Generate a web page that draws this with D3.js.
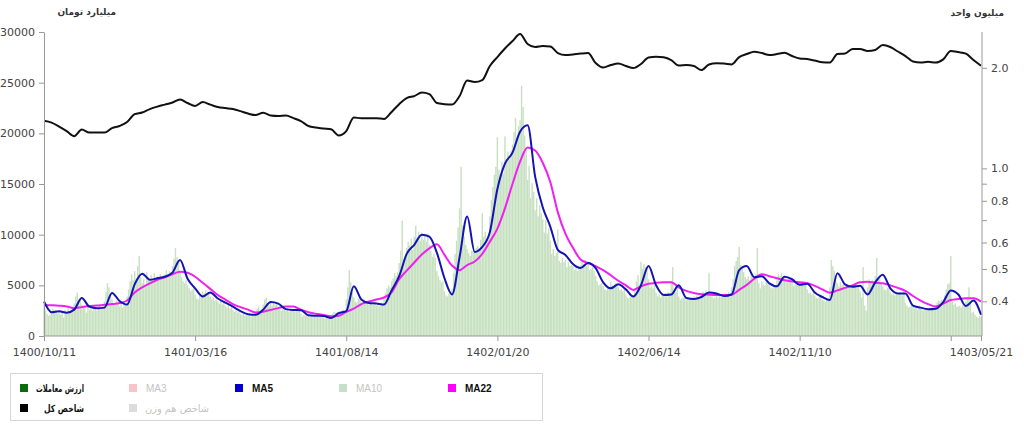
<!DOCTYPE html>
<html><head><meta charset="utf-8">
<script src="https://cdn.jsdelivr.net/npm/d3@7"></script>
<style>body{margin:0;background:#fff;} svg{display:block;}</style>
</head><body><svg id="c" width="1024" height="429"></svg>
<script>
// ---------- data ----------
const tickIndex = [0,100,200,300,400,500,600];
const tickLabels = ["1400/10/11","1401/03/16","1401/08/14","1402/01/20","1402/06/14","1402/11/10",""];
const lastLabel = "1403/05/21";
const leftTicks = [0,5000,10000,15000,20000,25000,30000];
const rightTicks = [0.4,0.5,0.6,0.7,0.8,0.9,1.0,2.0];
const rightLabels = ["0.4","0.5","0.6","","0.8","","1.0","2.0"];
const lineStep = 5; // line series are sampled every 5 trading days

// trading value (billion toman), one per trading day
const volume = [
3200,2600,2200,2000,2100, 2400,2700,2300,2600,2200, 2500,2100,2400,1800,2600, 2300,2900,2500,2400,2900,
3200,3900,4300,3600,3800, 3100,2800,2900,2300,3200, 2600,2900,2500,3000,2700, 2500,2800,3100,2600,2900,
3400,4300,5200,4800,3900, 3600,3200,3000,3500,3300, 2900,3200,2800,3300,3100, 3900,4600,5400,6100,5500,
6400,5700,6900,7900,5800, 5200,5600,4900,6300,5800, 5500,6000,5300,6200,5600, 5900,5600,6100,5700,6000,
6100,6500,6000,6400,6300, 6900,7600,8700,7800,7200, 6300,5800,5400,5200,5500, 5000,4700,4400,4600,4800,
4100,3700,3600,4000,3800, 4400,4200,4500,4100,4300, 3900,3600,3800,3500,3600, 3400,3200,3500,3100,3300,
3000,2800,3100,2700,2900, 2600,2400,2500,2300,2400, 2200,2100,2300,2000,2100, 2000,2200,1900,2100,2200,
2400,2700,2900,2500,2600, 3100,3600,3800,3200,3000, 3300,3000,3400,3100,3200, 2800,2600,2500,2700,2600,
2500,2700,2400,2600,2600, 2600,2400,2700,2500,2500, 2200,1900,2100,2000,2000, 2100,1900,2000,2100,1900,
1900,2000,2100,1900,2000, 1800,1700,1900,1700,1800, 2000,2200,2400,2300,2350, 2400,2300,2500,2600,2450,
3600,4800,6500,5300,4300, 3800,3400,3300,3700,3800, 3300,3100,3400,3200,3250, 3100,3300,3200,3100,3300,
3000,3200,2900,3300,3100, 3800,4200,4700,5000,4800, 5400,5700,6200,5900,6300, 7200,8400,11400,7600,7900,
8700,9300,8900,9600,8500, 9800,10900,9600,10300,9400, 10200,9500,9900,9300,10100, 9000,8400,7800,8100,7700,
6400,5900,5500,5300,5400, 4400,4000,3900,4200,4000, 4600,6200,8100,9400,10700, 12600,16700,10900,9800,9000,
8600,8200,7900,8400,8400, 8300,8700,8900,8600,9500, 12100,9800,10300,9600,9500, 11800,13400,14700,15900,16700,
19600,16400,15800,17200,16000, 19700,17500,18200,17400,18300, 18900,20100,21500,19600,20700, 21300,24700,22600,19800,18500,
15400,16800,13600,15100,14200, 12400,13600,11800,12900,12100, 11500,10200,11400,10100,10600, 9400,8100,8600,7900,8200,
10500,7400,7200,7700,7300, 7500,6800,7300,6900,7000, 6900,6500,6800,6400,6900, 7000,7400,7100,7500,6900,
7200,6500,6600,6800,6400, 5900,5400,5000,5100,5200, 4900,4600,4500,4800,4700, 5300,5000,4900,5200,5100,
4800,4500,4600,4400,4700, 4100,3800,3700,3900,4000, 3900,4600,5400,6000,5100, 7300,6600,7100,6800,6700,
5600,4800,4900,4700,5000, 4300,3900,4100,3800,4200, 4000,4200,3900,4300,4100, 5400,6800,4600,4300,4900,
3900,3600,3700,3800,3750, 3500,3700,3600,3800,3650, 3900,3700,4000,3800,3850, 4200,4400,4100,4500,4300,
6200,4000,3900,3700,3800, 4000,3800,4100,3900,3950, 4000,4200,4100,4300,3900, 4800,5600,6900,7400,7800,
8800,7000,6600,6300,5800, 5600,5900,5500,6100,5900, 5800,6100,8700,5200,4700, 5400,5100,5000,5300,5200,
5000,4800,4700,5000,4900, 5500,6100,5900,6200,5600, 5700,5400,5600,5800,5500, 5200,4900,5100,5000,5000,
5300,5000,5200,5100,5200, 4600,4200,4300,4100,4300, 4000,3800,3700,3900,3850, 3600,3500,3400,3700,3550,
4800,7500,6900,6400,5400, 5200,4900,5300,5000,5100, 4700,5000,4800,4900,4850, 5000,4800,5100,4900,4950,
4400,3800,6800,3000,2500, 4800,5600,5200,5500,5400, 5900,7700,5800,5600,5250, 4900,4600,4500,4800,4700,
4300,4100,4200,4000,4400, 4100,4300,4200,4000,4400, 3300,3000,2800,2900,3000, 2900,2700,2800,2600,3000,
2700,2600,2500,2700,2750, 2600,2800,2700,2600,2800, 3000,3300,3500,3400,3550, 3600,4000,4600,5100,5200,
7900,3400,3100,3200,2900, 2900,3000,2800,3100,2950, 3400,3800,4800,3200,2300, 2400,2100,1900,1800,2000,
1900];

// MA5 of trading value (billion toman), every 5th day
const ma5 = [
3400,2350,2450,2300,2600,3750,2900,2750,2800,4250,
3450,3100,5100,6150,5550,5700,5850,6250,7500,5650,
4700,3900,4300,3700,3300,2900,2450,2150,2100,2600,
3350,3200,2650,2570,2550,2050,2000,1980,1780,2250,
2450,4900,3600,3250,3200,3100,4500,5900,8100,9000,
10000,9800,8200,5700,4100,7800,11800,8300,8800,10250,
14500,17000,18100,20160,20800,15700,12700,10800,8500,8000,
7100,6700,7200,6700,5300,4700,5100,4600,3900,5000,
6900,5000,4050,4100,5000,3750,3650,3850,4300,4200,
3950,4100,6500,6900,5800,5900,5200,4900,5850,5600,
5050,5150,4300,3850,3550,6200,5100,4850,4950,4100,
5300,6050,4700,4200,4200,3000,2800,2650,2700,3350,
4500,4100,2950,3500,2100];

// MA22 of trading value (billion toman), every 5th day
const ma22 = [
3060,3030,2990,2920,2740,2850,2950,3000,3080,3150,
3250,3500,4300,4800,5200,5550,5800,6100,6330,6250,
5850,5250,4650,4050,3600,3150,2850,2600,2330,2400,
2580,2750,2900,2900,2600,2350,2200,2070,1950,2000,
2380,2700,3150,3400,3600,3800,4300,5600,6450,7250,
8050,8650,9050,8000,6950,6500,7000,7350,8100,9300,
10600,12600,15000,17200,18600,18300,17100,15200,12200,10100,
8700,7550,7200,6900,6500,6000,5450,5000,4550,4900,
5150,5250,5300,5300,4800,4450,4250,4130,4080,4050,
4050,4080,4550,5050,5650,6100,5900,5700,5500,5380,
5300,5220,4950,4600,4280,4500,4750,5000,5300,5350,
5250,5200,5000,4750,4450,3950,3500,3150,2900,3200,
3550,3650,3720,3720,3400];

// total index (million units), every 5th day
const indexVals = [
1.388,1.371,1.334,1.293,1.249,1.307,1.280,1.281,1.280,1.320,
1.339,1.376,1.454,1.470,1.505,1.531,1.552,1.574,1.607,1.569,
1.537,1.579,1.552,1.526,1.515,1.505,1.484,1.459,1.444,1.467,
1.439,1.434,1.439,1.414,1.385,1.339,1.325,1.316,1.309,1.254,
1.293,1.419,1.414,1.414,1.414,1.405,1.475,1.557,1.624,1.646,
1.686,1.669,1.569,1.557,1.552,1.646,1.832,1.813,1.838,2.025,
2.154,2.284,2.405,2.524,2.356,2.308,2.324,2.316,2.214,2.184,
2.194,2.206,2.214,2.067,2.004,2.038,2.060,2.025,1.997,2.053,
2.147,2.159,2.150,2.110,2.031,2.038,2.025,1.969,2.046,2.063,
2.060,2.048,2.154,2.199,2.235,2.214,2.184,2.199,2.219,2.169,
2.132,2.124,2.102,2.077,2.074,2.199,2.206,2.277,2.277,2.245,
2.261,2.340,2.308,2.238,2.169,2.088,2.074,2.085,2.074,2.120,
2.245,2.229,2.206,2.110,2.029];

const legendItems = [
  {label:"ارزش معاملات", color:"#0b6b0b", active:true, rtl:true},
  {label:"MA3", color:"#f6c3c9", active:false},
  {label:"MA5", color:"#0000d0", active:true},
  {label:"MA10", color:"#c7dfc7", active:false},
  {label:"MA22", color:"#ff00ff", active:true},
  {label:"شاخص کل", color:"#000000", active:true, rtl:true},
  {label:"شاخص هم وزن", color:"#dcdcdc", active:false}
];

// ---------- chart ----------
const svg = d3.select("#c");
const L = 44, R = 982, T = 32, B = 336;
const N = volume.length;
const x = d3.scaleLinear().domain([0, N-1]).range([L, R-1]);
const yL = d3.scaleLinear().domain([0, 30000]).range([B, T]);
const yR = d3.scaleLog().domain([0.315, 2.56]).range([B, T]);
const numFont = "DejaVu Sans, sans-serif";

// bars
svg.append("g").selectAll("rect").data(volume).join("rect")
  .attr("x", (d,i) => x(i) - 0.7)
  .attr("width", 1.4)
  .attr("y", d => yL(d))
  .attr("height", d => B - yL(d))
  .attr("fill", "#c6e0c0");

const lineGen = (scale) => d3.line()
  .curve(d3.curveMonotoneX)
  .x((d,i) => x(Math.min(i*lineStep, N-1)))
  .y(d => scale(d));

svg.append("path").datum(ma22).attr("d", lineGen(yL))
  .attr("fill","none").attr("stroke","#ee22ee").attr("stroke-width",2).attr("stroke-linejoin","round");
svg.append("path").datum(ma5).attr("d", lineGen(yL))
  .attr("fill","none").attr("stroke","#1414b4").attr("stroke-width",2).attr("stroke-linejoin","round");
svg.append("path").datum(indexVals).attr("d", lineGen(yR))
  .attr("fill","none").attr("stroke","#111").attr("stroke-width",2).attr("stroke-linejoin","round");

// axes
const axisColor = "#999";
function styleAxis(g){
  g.selectAll(".domain").attr("stroke", axisColor);
  g.selectAll(".tick line").attr("stroke", axisColor);
  g.selectAll("text").attr("fill","#444").attr("font-family",numFont).attr("font-size","11px");
}
const gl = svg.append("g").attr("transform",`translate(${L},0)`)
  .call(d3.axisLeft(yL).tickValues(leftTicks).tickFormat(d3.format("d")).tickSize(5).tickSizeOuter(0).tickPadding(4));
styleAxis(gl);

const gr = svg.append("g").attr("transform",`translate(${R},0)`)
  .call(d3.axisRight(yR).tickValues(rightTicks).tickFormat((d,i)=>rightLabels[i]).tickSize(5).tickSizeOuter(0).tickPadding(4));
styleAxis(gr);
gr.select(".domain").attr("d", `M0,${T}V${B}`);

const xTickVals = tickIndex.concat([N-1]);
const xTickLab = tickLabels.concat([lastLabel]);
const gb = svg.append("g").attr("transform",`translate(0,${B})`)
  .call(d3.axisBottom(x).tickValues(xTickVals).tickFormat((d,i)=>xTickLab[i]).tickSize(5).tickSizeOuter(0).tickPadding(7));
styleAxis(gb);
gb.select(".domain").attr("d", `M${L},0H${R}`);

// axis titles
svg.append("text").attr("x",116).attr("y",15).attr("text-anchor","end")
  .attr("font-family","DejaVu Sans, sans-serif").attr("font-size","9px").attr("font-weight","bold").attr("fill","#333")
  .text("میلیارد تومان");
svg.append("text").attr("x",1004).attr("y",16).attr("text-anchor","end")
  .attr("font-family","DejaVu Sans, sans-serif").attr("font-size","9px").attr("font-weight","bold").attr("fill","#333")
  .text("میلیون واحد");

// legend
svg.append("rect").attr("x",10.5).attr("y",373.5).attr("width",532).attr("height",47)
  .attr("fill","#fff").attr("stroke","#d6d6d6");
const colX = [20, 129, 235, 339, 448];
const rowY = [388, 408];
const rtlWidth = {"ارزش معاملات":48, "شاخص کل":40, "شاخص هم وزن":64};
legendItems.forEach((it, i) => {
  const col = i % 5, row = Math.floor(i / 5);
  const sx = colX[col], cy = rowY[row];
  svg.append("rect").attr("x", sx).attr("y", cy-4).attr("width", 8).attr("height", 8).attr("fill", it.color);
  const t = svg.append("text")
    .attr("y", cy + 4)
    .attr("fill", it.active ? "#111" : "#c4c4c4")
    .attr("font-weight", it.active ? "bold" : "normal")
    .text(it.label);
  if (/[A-Za-z]/.test(it.label)) {
    t.attr("x", sx + 17).attr("text-anchor","start").attr("font-size","10px")
     .attr("font-family", "Liberation Sans, Arial, sans-serif");
  } else {
    const w = rtlWidth[it.label];
    const endX = it.rtl ? 84 : sx + 16 + w;
    t.attr("x", endX - w).attr("text-anchor","start").attr("font-size","10px")
     .attr("font-family", "DejaVu Sans, sans-serif")
     .attr("textLength", w).attr("lengthAdjust","spacingAndGlyphs");
  }
});
</script></body></html>
